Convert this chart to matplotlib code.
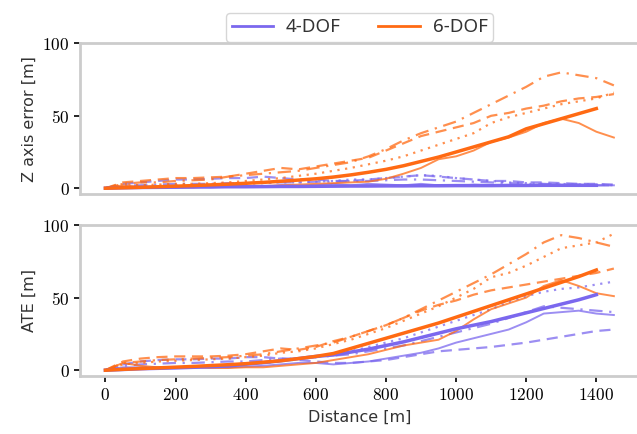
import matplotlib
matplotlib.use('Agg')
import matplotlib.pyplot as plt
from matplotlib.ticker import FuncFormatter

plt.rcParams['mathtext.fontset'] = 'cm'
plt.rcParams['font.family'] = ['DejaVu Sans']

# distance grid [m]
dist = [0, 50, 100, 150, 200, 250, 300, 350, 400, 450, 500, 550, 600, 650, 700,
        750, 800, 850, 900, 950, 1000, 1050, 1100, 1150, 1200, 1250, 1300, 1350, 1400, 1450]
dist_mean = dist[:-1]  # mean curves stop at 1400 m

# ---- Z axis error [m] ----
z_6dof_mean = [0, 0.3, 0.6, 1, 1.4, 1.8, 2.3, 2.8, 3.4, 4.0, 4.8, 5.6, 6.5, 7.7, 9.2,
               11, 13, 15.5, 18.5, 21.5, 25, 28.5, 32, 35.5, 41, 44.5, 48, 51.5, 55]
z_6dof_a = [0, 2, 1, 1, 0.5, 0.5, 1, 1, 1.5, 1.5, 2, 2.5, 3, 3.5, 4,
            4.5, 6.5, 10, 14, 20, 22, 26, 32, 35, 39, 45, 48, 45, 39, 35]
z_6dof_b = [0, 4, 5, 6, 7, 7, 7.5, 8, 10, 12, 14, 13, 15, 17, 19,
            21, 26, 31, 36, 39, 42, 45, 50, 52, 55, 57, 60, 62, 63, 65]
z_6dof_c = [0, 3, 2, 2.5, 3, 3, 3.5, 4, 5, 6, 7, 8.5, 10, 12, 14,
            16.5, 19, 22, 26, 30, 34, 38, 45, 49, 52, 55, 58, 60, 62, 66]
z_6dof_d = [0, 3, 4, 4, 5, 5.5, 6, 8, 9, 10, 11, 12, 14, 16, 18,
            22, 27, 33, 38, 42, 46, 52, 58, 64, 70, 77, 80, 78, 76, 71]

z_4dof_mean = [0, 0.3, 0.5, 0.6, 0.7, 0.8, 0.9, 1.0, 1.0, 1.1, 1.2, 1.2, 1.3, 1.4, 1.5,
               1.5, 1.6, 1.6, 1.7, 1.7, 1.8, 1.8, 1.8, 1.9, 1.9, 2.0, 2.0, 2.0, 2.0]
z_4dof_a = [0, 1, 0.5, 0.5, 1, 1, 0.5, 1, 1.5, 1, 2, 1.5, 2, 3, 2,
            3, 2.5, 2, 3, 2, 1.5, 2.5, 2, 1.5, 2, 2.5, 2, 1.5, 2, 2]
z_4dof_b = [0, 3, 4, 5, 6, 6, 6.5, 7, 7, 8, 7, 6, 6, 5, 5,
            6, 7, 8, 9, 8, 7, 6, 5, 5, 4, 4, 3.5, 3, 3, 2.5]
z_4dof_c = [0, 1, 1, 1.5, 2, 2, 2.5, 3, 3, 3.5, 4, 4, 4.5, 5, 6,
            6, 7, 8, 9, 8.5, 7, 6, 5, 4, 3.5, 3, 3, 2.5, 2.5, 2]
z_4dof_d = [0, 2, 2, 2.5, 3, 3, 3, 3.5, 3.5, 4, 4, 4, 4.5, 4.5, 5,
            5, 5.5, 6, 6, 5.5, 5, 4.5, 4, 3.5, 3, 3, 2.5, 2.5, 2, 2]

# ---- ATE [m] ----
ate_6dof_mean = [0, 0.6, 1.1, 1.6, 2.1, 2.6, 3.2, 3.8, 4.5, 5.5, 6.5, 8, 9.5, 11.5, 15,
                 18.5, 22, 25.5, 29, 32.5, 36.5, 40.5, 44.5, 48.5, 52.5, 56.5, 60.5, 64.5, 69]
ate_6dof_a = [0, 5, 3, 2, 2, 2, 1.5, 1.5, 2, 2, 3, 4, 5, 7, 9,
              11, 14, 17, 19, 21, 27, 35, 42, 46, 50, 58, 62, 58, 53, 51]
ate_6dof_b = [0, 6, 8, 9, 9.5, 9.5, 9.5, 10, 11, 13, 15, 14, 16, 20, 23,
              27, 31, 36, 41, 45, 48, 52, 55, 57, 59, 61, 63, 65, 67, 70]
ate_6dof_c = [0, 4, 5, 6, 6.5, 7, 7.5, 8, 9, 10, 12, 13, 15, 18, 21,
              25, 29, 34, 39, 44, 50, 56, 64, 67, 72, 78, 84, 86, 88, 94]
ate_6dof_d = [0, 5, 6, 7, 7.5, 8, 8.5, 9, 10, 11, 13, 15, 17, 19, 23,
              27, 31, 36, 42, 48, 54, 60, 66, 73, 80, 88, 93, 91, 88, 85]

ate_4dof_mean = [0, 0.5, 1, 1.3, 1.6, 2, 2.4, 2.9, 4.2, 5.2, 6.5, 8, 9.5, 10.5, 12.5,
                 14.5, 17, 19.5, 22.5, 25.5, 28.5, 31, 33.5, 36.5, 39.5, 42.5, 45.5, 48.5, 52]
ate_4dof_a = [0, 2, 2, 1.5, 1.5, 2, 2, 2, 2.5, 3, 4, 5, 5, 4, 5,
              6, 8, 10, 12, 15, 19, 22, 25, 28, 33, 39, 40, 41, 39, 38]
ate_4dof_b = [0, 4, 6, 7, 7.5, 7.5, 8, 8, 9, 9, 8, 7, 6, 5, 5,
              6, 7, 9, 11, 13, 14, 15, 16, 17.5, 19, 21, 23, 25, 27, 28]
ate_4dof_c = [0, 1, 1.5, 2, 2, 2.5, 3, 3.5, 4, 5, 6, 7.5, 9, 11, 13,
              16, 19, 22, 26, 30, 34, 38, 42, 47, 51, 54, 56, 57, 59, 61]
ate_4dof_d = [0, 3, 4, 4.5, 5, 5, 5.5, 6, 6, 7, 8, 8, 9, 10, 11,
              13, 15, 17, 20, 23, 26, 29, 32, 36, 40, 44, 43, 42, 41, 40]

purple = '#7b68ee'
orange = '#ff6a13'

fig = plt.figure(figsize=(6.37, 4.34), dpi=100)
ax1 = fig.add_axes([0.1256, 0.553, 0.878, 0.347])
ax2 = fig.add_axes([0.1256, 0.1336, 0.878, 0.348])

def draw(ax, col, mean, a, b, c, d):
    ax.plot(dist_mean, mean, color=col, lw=2.5, zorder=5)
    ax.plot(dist, a, color=col, lw=1.4, alpha=0.75)
    ax.plot(dist, b, color=col, lw=1.6, alpha=0.75, ls=(0, (5, 3)))
    ax.plot(dist, c, color=col, lw=1.6, alpha=0.75, ls=(0, (1, 2.5)))
    ax.plot(dist, d, color=col, lw=1.6, alpha=0.75, ls=(0, (6, 3, 1, 3)))

draw(ax1, purple, z_4dof_mean, z_4dof_a, z_4dof_b, z_4dof_c, z_4dof_d)
draw(ax1, orange, z_6dof_mean, z_6dof_a, z_6dof_b, z_6dof_c, z_6dof_d)
draw(ax2, purple, ate_4dof_mean, ate_4dof_a, ate_4dof_b, ate_4dof_c, ate_4dof_d)
draw(ax2, orange, ate_6dof_mean, ate_6dof_a, ate_6dof_b, ate_6dof_c, ate_6dof_d)

fmt = FuncFormatter(lambda v, p: r'$%d$' % v)
for ax in (ax1, ax2):
    ax.set_xlim(-72.5, 1522.5)
    ax.set_ylim(-4, 100)
    ax.set_yticks([0, 50, 100])
    ax.set_xticks([0, 200, 400, 600, 800, 1000, 1200, 1400])
    ax.xaxis.set_major_formatter(fmt)
    ax.yaxis.set_major_formatter(fmt)
    ax.tick_params(labelsize=12.5, length=4, width=1.2, color='black')
    for s in ax.spines.values():
        s.set_color('#cccccc')
        s.set_linewidth(2)

ax1.tick_params(axis='x', bottom=False, labelbottom=False)
ax1.set_ylabel('Z axis error [m]', fontsize=11.5, color='#333333')
ax2.set_ylabel('ATE [m]', fontsize=11.5, color='#333333')
ax2.set_xlabel('Distance [m]', fontsize=11.5, color='#333333')

handles = [plt.Line2D([], [], color=purple, lw=2),
           plt.Line2D([], [], color=orange, lw=2)]
fig.legend(handles, ['4-DOF', '6-DOF'], loc='lower center', bbox_to_anchor=(0.5644, 0.903),
           borderaxespad=0, ncol=2, frameon=True, edgecolor='#cccccc', handlelength=2.2,
           handletextpad=0.7, columnspacing=2.0, borderpad=0.3,
           prop={'family': 'Noto Sans', 'size': 13.5}, labelcolor='#333333')

fig.savefig('out.png', dpi=100)
